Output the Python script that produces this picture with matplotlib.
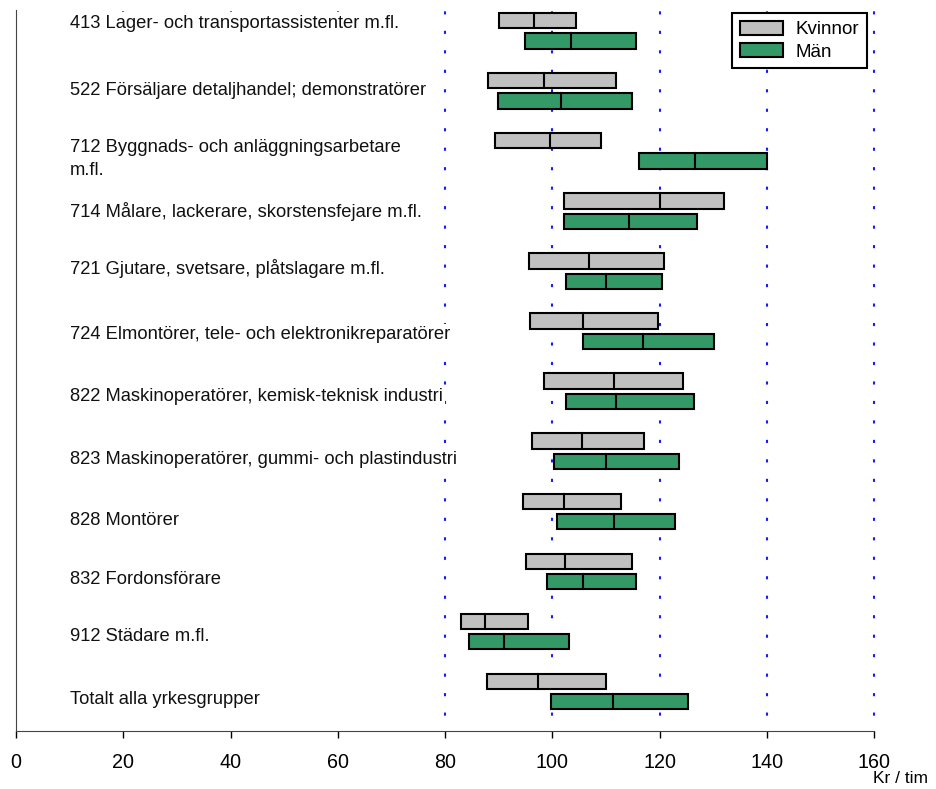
import matplotlib.pyplot as plt
from matplotlib.patches import Patch

plt.rcParams['font.family'] = ['Liberation Sans', 'DejaVu Sans']

# Yrkesgrupper, top to bottom
groups = ["413 Lager- och transportassistenter m.fl.",
          "522 Försäljare detaljhandel; demonstratörer",
          "712 Byggnads- och anläggningsarbetare\nm.fl.",
          "714 Målare, lackerare, skorstensfejare m.fl.",
          "721 Gjutare, svetsare, plåtslagare m.fl.",
          "724 Elmontörer, tele- och elektronikreparatörer",
          "822 Maskinoperatörer, kemisk-teknisk industri",
          "823 Maskinoperatörer, gummi- och plastindustri",
          "828 Montörer",
          "832 Fordonsförare",
          "912 Städare m.fl.",
          "Totalt alla yrkesgrupper"]

# Kr / tim: lower quartile, median, upper quartile
kv_low = [90.0, 88.0, 89.4, 102.1, 95.7, 95.8, 98.5, 96.3, 94.6, 95.1, 82.9, 87.8]
kv_med = [96.6, 98.5, 99.5, 120.0, 106.9, 105.7, 111.5, 105.5, 102.1, 102.4, 87.5, 97.4]
kv_high = [104.4, 111.9, 109.0, 132.0, 120.9, 119.8, 124.3, 117.1, 112.8, 114.8, 95.4, 110.1]

man_low = [95.0, 89.8, 116.1, 102.1, 102.6, 105.7, 102.6, 100.4, 100.9, 99.1, 84.4, 99.7]
man_med = [103.5, 101.6, 126.6, 114.4, 110.1, 116.9, 111.9, 110.1, 111.5, 105.7, 91.0, 111.3]
man_high = [115.6, 114.8, 140.0, 126.9, 120.5, 130.2, 126.4, 123.7, 122.8, 115.6, 103.1, 125.4]

xticks = [0, 20, 40, 60, 80, 100, 120, 140, 160]

gray = "#c0c0c0"
green = "#339966"
off = 0.169
h = 0.255
# vertical shift of each label relative to its row (layout only)
label_shift = [-0.13, 0.0, 0.14, 0.0, -0.04, 0.06, 0.08, 0.14, 0.16, 0.13, 0.09, 0.13]

fig = plt.figure(figsize=(9.36, 7.89), dpi=100)
ax = fig.add_axes([0.0171, 0.0735, 0.9167, 0.9138])

rows = list(range(len(groups)))

# dashed blue grid lines (dash pattern is scaled by lw)
for x in xticks[1:]:
    ax.axvline(x, color="#1a1aff", lw=1.5, linestyle=(2, (1.5, 7.85)),
               zorder=0, clip_on=False)

# white area behind the labels hides the grid
ax.axvspan(1, 78, ymin=0.02, ymax=0.995, color="white", zorder=1, lw=0)

def draw_boxes(lows, meds, highs, color, dy):
    ys = [r + dy for r in rows]
    widths = [hi - lo for lo, hi in zip(lows, highs)]
    ax.barh(ys, widths, left=lows, height=h, color=color,
            edgecolor="black", linewidth=1.5, zorder=3)
    for y, m in zip(ys, meds):
        ax.plot([m, m], [y - h / 2, y + h / 2], color="black", lw=1.5, zorder=4)

draw_boxes(kv_low, kv_med, kv_high, gray, -off)
draw_boxes(man_low, man_med, man_high, green, off)

# labels
for r, g in zip(rows, groups):
    ax.text(10.0, r + label_shift[r], g, ha="left", va="center",
            fontsize=13.2, color="#111111", zorder=5, linespacing=1.45,
            bbox=dict(facecolor="white", edgecolor="none", pad=2))

ax.set_xlim(0, 160)
ax.set_ylim(11.658, -0.347)
ax.set_xticks(xticks)
ax.set_yticks([])
ax.tick_params(axis="x", direction="out", length=5, width=1, pad=11, labelsize=14.2)
for s in ["top", "right"]:
    ax.spines[s].set_visible(False)
ax.spines["left"].set_color("#444444")
ax.spines["bottom"].set_color("#444444")

handles = [Patch(facecolor=gray, edgecolor="black", lw=1.5, label="Kvinnor"),
           Patch(facecolor=green, edgecolor="black", lw=1.5, label="Män")]
leg = ax.legend(handles=handles, loc="upper right", bbox_to_anchor=(0.9918, 0.9958),
                borderaxespad=0, fontsize=13.5, fancybox=False, framealpha=1,
                edgecolor="black", handlelength=2.3, handleheight=0.8,
                handletextpad=0.7, borderpad=0.4, labelspacing=0.25)
leg.get_frame().set_linewidth(1.5)

fig.text(0.991, 0.004, "Kr / tim", ha="right", va="bottom", fontsize=12.5)

fig.savefig("out.png", dpi=100)
